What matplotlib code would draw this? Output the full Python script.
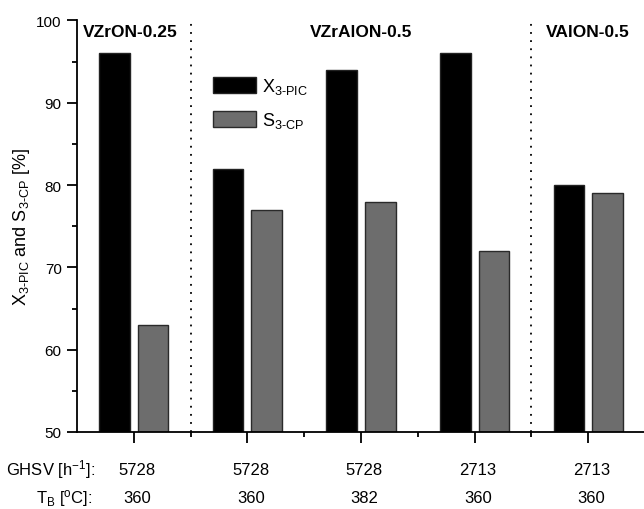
import numpy as np
from matplotlib import pyplot as plt
from matplotlib.ticker import MultipleLocator

plt.rcParams["font.family"] = ["Liberation Sans", "DejaVu Sans"]
plt.rcParams["mathtext.fontset"] = "custom"
plt.rcParams["mathtext.rm"] = "Liberation Sans"
plt.rcParams["mathtext.it"] = "Liberation Sans"
plt.rcParams["mathtext.sf"] = "Liberation Sans"

catalysts = ["VZrON-0.25", "VZrAlON-0.5", "VAlON-0.5"]
ghsv = ["5728", "5728", "5728", "2713", "2713"]
temps = ["360", "360", "382", "360", "360"]
x_pic = [96, 82, 94, 96, 80]
s_cp = [63, 77, 78, 72, 79]

pos = np.arange(1, len(x_pic) + 1)
w = 0.27
off = 0.17

fig = plt.figure(figsize=(6.44, 5.10), dpi=100)
ax = fig.add_axes([0.1196, 0.151, 0.882, 0.807])

ax.bar(pos - off, [v - 50 for v in x_pic], w, bottom=50, color="black",
       edgecolor="#222222", lw=1, label="X$_{\\mathsf{3\\text{-}PIC}}$")
ax.bar(pos + off, [v - 50 for v in s_cp], w, bottom=50, color="#6d6d6d",
       edgecolor="#2a2a2a", lw=1, label="S$_{\\mathsf{3\\text{-}CP}}$")

for xv in [1.5, 4.5]:
    ax.axvline(xv, color="black", ls=(0, (1, 3.5)), lw=1.3)

ax.set_xlim(0.5, 5.5)
ax.set_ylim(50, 100)
ax.yaxis.set_major_locator(MultipleLocator(10))
ax.yaxis.set_minor_locator(MultipleLocator(5))
ax.set_xticks(pos)
ax.set_xticklabels([])
ax.set_xticks([1.5, 2.5, 3.5, 4.5], minor=True)
ax.tick_params(axis="both", which="major", direction="out", length=7.5, width=1.3, labelsize=11)
ax.tick_params(axis="both", which="minor", direction="out", length=3.5, width=1.3)
ax.tick_params(axis="x", which="major", length=8)

for spine in ["top", "right"]:
    ax.spines[spine].set_visible(False)
for spine in ["left", "bottom"]:
    ax.spines[spine].set_linewidth(1.3)

ax.set_ylabel("X$_{\\mathsf{3\\text{-}PIC}}$ and S$_{\\mathsf{3\\text{-}CP}}$ [%]", fontsize=13, labelpad=3)

ax.text(0.55, 98.6, catalysts[0], ha="left", va="center", fontsize=12.5, fontweight="bold")
ax.text(3.0, 98.6, catalysts[1], ha="center", va="center", fontsize=12.5, fontweight="bold")
ax.text(5.0, 98.6, catalysts[2], ha="center", va="center", fontsize=12.5, fontweight="bold")

ax.legend(loc="upper left", bbox_to_anchor=(0.239, 0.864), frameon=False,
          handlelength=2.4, handleheight=1.0, handletextpad=0.3,
          labelspacing=0.75, fontsize=13, borderaxespad=0, borderpad=0)

trans = ax.get_xaxis_transform()
for p, g, t in zip(pos, ghsv, temps):
    ax.text(p + 0.03, -0.09, g, transform=trans, ha="center", va="center", fontsize=12)
    ax.text(p + 0.03, -0.16, t, transform=trans, ha="center", va="center", fontsize=12)
ax.text(0.66, -0.09, "GHSV [h$^{\\mathsf{-1}}$]:", transform=trans, ha="right", va="center", fontsize=12)
ax.text(0.64, -0.16, "T$_{\\mathsf{B}}$ [$^{\\mathsf{o}}$C]:", transform=trans, ha="right", va="center", fontsize=12)

fig.savefig("out.png", dpi=100)
